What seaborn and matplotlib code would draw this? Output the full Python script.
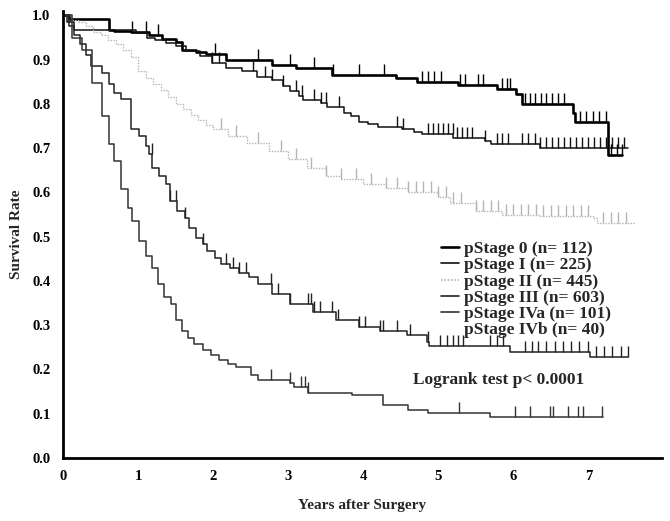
import numpy as np
import pandas as pd
import matplotlib
matplotlib.use("Agg")
import matplotlib.pyplot as plt
from matplotlib.lines import Line2D
import seaborn as sns

# ---- data ----
stage_labels = ["pStage 0 (n= 112)", "pStage I (n= 225)", "pStage II (n= 445)",
                "pStage III (n= 603)", "pStage IVa (n= 101)", "pStage IVb (n= 40)"]

s0_t = [0, 0.08, 0.61, 0.68, 0.91, 1.15, 1.32, 1.50, 1.59, 1.77, 1.90, 2.17, 2.79, 3.11, 3.59,
        4.44, 4.71, 5.26, 5.78, 6.04, 6.11, 6.80, 6.82, 7.26, 7.45]
s0_s = [1.0, 0.991, 0.968, 0.965, 0.962, 0.955, 0.946, 0.939, 0.923, 0.918, 0.912, 0.900, 0.889,
        0.881, 0.866, 0.859, 0.850, 0.842, 0.833, 0.822, 0.800, 0.779, 0.759, 0.685, 0.685]
s0_cens = [0.92, 1.11, 1.27, 2.02, 2.60, 3.03, 3.35, 3.60, 3.94, 4.27, 4.78, 4.86, 4.94, 5.03,
           5.29, 5.35, 5.53, 5.60, 5.85, 5.91, 5.95, 6.15, 6.22, 6.29, 6.37, 6.44, 6.52, 6.60,
           6.67, 6.89, 6.97, 7.06, 7.14, 7.24, 7.30, 7.38, 7.45]

s1_t = [0, 0.05, 0.15, 0.97, 1.12, 1.22, 1.37, 1.50, 1.64, 1.82, 1.99, 2.17, 2.38, 2.59, 2.78,
        2.93, 3.02, 3.15, 3.20, 3.44, 3.52, 3.75, 3.84, 3.95, 4.06, 4.19, 4.51, 4.68, 4.78, 5.20,
        5.62, 5.70, 6.36, 7.53]
s1_s = [1.0, 0.985, 0.966, 0.960, 0.949, 0.944, 0.937, 0.930, 0.919, 0.908, 0.892, 0.881, 0.874,
        0.862, 0.855, 0.840, 0.829, 0.818, 0.808, 0.802, 0.793, 0.780, 0.773, 0.760, 0.754, 0.748,
        0.744, 0.737, 0.732, 0.724, 0.716, 0.710, 0.700, 0.700]
s1_cens = [1.99, 2.08, 2.53, 2.69, 2.78, 2.93, 3.11, 3.18, 3.35, 3.44, 3.51, 3.68, 4.45, 4.53,
           4.86, 4.93, 5.00, 5.06, 5.13, 5.19, 5.25, 5.32, 5.38, 5.45, 5.62, 5.78, 5.85, 5.93,
           6.11, 6.20, 6.29, 6.36, 6.44, 6.52, 6.60, 6.68, 6.76, 6.84, 6.92, 7.00, 7.08, 7.16,
           7.24, 7.32, 7.40, 7.48]

s2_t = [0, 0.1, 0.2, 0.3, 0.4, 0.5, 0.6, 0.7, 0.8, 0.9, 1.0, 1.1, 1.2, 1.3, 1.4, 1.5, 1.6, 1.7,
        1.8, 1.9, 2.0, 2.2, 2.45, 2.75, 3.0, 3.25, 3.5, 3.7, 4.0, 4.3, 4.6, 5.0, 5.15, 5.5, 5.85,
        6.35, 7.06, 7.12, 7.62]
s2_s = [1.0, 0.990, 0.985, 0.975, 0.962, 0.955, 0.945, 0.935, 0.922, 0.905, 0.875, 0.858, 0.845,
        0.832, 0.815, 0.800, 0.788, 0.775, 0.763, 0.752, 0.743, 0.727, 0.712, 0.694, 0.676, 0.655,
        0.637, 0.631, 0.619, 0.610, 0.600, 0.590, 0.577, 0.559, 0.550, 0.547, 0.543, 0.532, 0.532]
s2_cens = [2.1, 2.3, 2.6, 2.9, 3.1, 3.3, 3.5, 3.7, 3.9, 4.1, 4.3, 4.45, 4.6, 4.7, 4.8, 4.9, 5.0,
           5.1, 5.2, 5.3, 5.5, 5.6, 5.7, 5.8, 5.9, 6.0, 6.1, 6.2, 6.3, 6.4, 6.5, 6.6, 6.7, 6.8,
           6.9, 7.0, 7.2, 7.3, 7.4, 7.5]

s3_t = [0, 0.08, 0.15, 0.22, 0.30, 0.37, 0.52, 0.61, 0.68, 0.77, 0.91, 1.01, 1.11, 1.14, 1.19,
        1.28, 1.37, 1.42, 1.52, 1.62, 1.68, 1.77, 1.86, 1.92, 2.02, 2.11, 2.22, 2.35, 2.48, 2.60,
        2.79, 3.02, 3.33, 3.64, 3.95, 4.22, 4.58, 4.85, 4.87, 5.95, 7.02, 7.53]
s3_s = [1.0, 0.975, 0.955, 0.935, 0.910, 0.885, 0.869, 0.845, 0.824, 0.811, 0.743, 0.727, 0.705,
        0.687, 0.655, 0.637, 0.619, 0.581, 0.559, 0.543, 0.520, 0.498, 0.484, 0.468, 0.453, 0.439,
        0.430, 0.418, 0.408, 0.394, 0.371, 0.349, 0.329, 0.311, 0.295, 0.288, 0.277, 0.262, 0.252,
        0.240, 0.228, 0.228]
s3_cens = [1.18, 1.42, 1.50, 1.62, 1.86, 2.17, 2.26, 2.35, 2.44, 2.77, 2.86, 3.02, 3.26, 3.31,
           3.35, 3.42, 3.59, 3.66, 3.95, 4.02, 4.22, 4.26, 4.45, 4.62, 4.86, 5.02, 5.11, 5.19,
           5.26, 5.33, 5.69, 5.78, 5.86, 6.15, 6.25, 6.33, 6.44, 6.55, 6.66, 6.77, 6.88, 6.99,
           7.10, 7.21, 7.32, 7.43, 7.53]

s4_t = [0, 0.12, 0.25, 0.39, 0.52, 0.61, 0.68, 0.77, 0.86, 0.92, 1.01, 1.11, 1.18, 1.26, 1.35,
        1.44, 1.51, 1.59, 1.66, 1.75, 1.86, 1.97, 2.08, 2.20, 2.30, 2.51, 2.60, 3.02, 3.08, 3.26,
        3.85, 4.26, 4.60, 4.86, 5.69, 7.20]
s4_s = [1.0, 0.950, 0.923, 0.847, 0.773, 0.709, 0.671, 0.608, 0.565, 0.536, 0.491, 0.457, 0.430,
        0.394, 0.363, 0.349, 0.311, 0.288, 0.272, 0.258, 0.245, 0.232, 0.222, 0.213, 0.206, 0.187,
        0.176, 0.169, 0.160, 0.146, 0.142, 0.119, 0.108, 0.101, 0.093, 0.093]
s4_cens = [2.77, 3.02, 3.17, 3.22, 3.26, 5.27, 6.02, 6.22, 6.49, 6.53, 6.73, 6.86, 6.93, 7.18]

x_ticks = [0, 1, 2, 3, 4, 5, 6, 7]
y_ticks = [0.0, 0.1, 0.2, 0.3, 0.4, 0.5, 0.6, 0.7, 0.8, 0.9, 1.0]

# ---- styling ----
series = [
    (s0_t, s0_s, s0_cens, "#000000", 1.9, "-"),
    (s1_t, s1_s, s1_cens, "#111111", 1.1, "-"),
    (s2_t, s2_s, s2_cens, "#b5b5b5", 1.0, (0, (1, 1))),
    (s3_t, s3_s, s3_cens, "#222222", 1.1, "-"),
    (s4_t, s4_s, s4_cens, "#333333", 1.1, "-"),
]

sns.set_style("white")
plt.rcParams["font.family"] = ["Liberation Serif", "DejaVu Serif"]
plt.rcParams["font.weight"] = "bold"

fig = plt.figure(figsize=(6.7, 5.21), dpi=100)
ax = fig.add_axes([63 / 670, 1 - 458 / 521, (662 - 63) / 670, (458 - 11) / 521])

handles = []
for i, (t, s, cens, col, lw, ls) in enumerate(series):
    df = pd.DataFrame({"t": t, "s": s})
    sns.lineplot(data=df, x="t", y="s", ax=ax, color=col, linewidth=lw, linestyle=ls,
                 drawstyle="steps-post", estimator=None, sort=False)
    t_arr = np.asarray(t)
    s_arr = np.asarray(s)
    idx = np.searchsorted(t_arr, np.asarray(cens), side="right") - 1
    ax.plot(cens, s_arr[idx], linestyle="none", marker=2, markersize=8,
            markeredgewidth=1.0, color=col)
    handles.append(Line2D([0], [0], color=col, linewidth=max(lw, 1.2),
                          linestyle="-" if i != 2 else (0, (1, 1))))
handles.append(Line2D([0], [0], color="white", linewidth=1.2))

ax.set_xlim(0, 7.98)
ax.set_ylim(0, 1.01)
ax.set_xticks(x_ticks)
ax.set_xticklabels([str(v) for v in x_ticks])
ax.set_yticks(y_ticks)
ax.set_yticklabels([f"{v:.1f}" for v in y_ticks])
ax.tick_params(axis="both", labelsize=10.5, length=2, width=1, pad=7, colors="black")
for lab in ax.get_xticklabels() + ax.get_yticklabels():
    lab.set_fontweight("bold")
sns.despine(ax=ax)
ax.spines["left"].set_linewidth(2.0)
ax.spines["bottom"].set_linewidth(2.0)
ax.spines["left"].set_color("black")
ax.spines["bottom"].set_color("black")

ax.set_xlabel("Years after Surgery", fontsize=11, fontweight="bold", labelpad=11)
ax.set_ylabel("Survival Rate", fontsize=11, fontweight="bold", labelpad=7)

leg = ax.legend(handles, stage_labels, loc="upper left",
                bbox_to_anchor=(429 / 670, 1 - 229 / 521), bbox_transform=fig.transFigure,
                frameon=False, fontsize=12.5, handlelength=1.0, handletextpad=0.3,
                labelspacing=0.0, borderpad=0.2)
for txt in leg.get_texts():
    txt.set_fontweight("bold")

ax.text(5.81, 0.176, "Logrank test p< 0.0001", fontsize=12.5, fontweight="bold",
        ha="center", va="center")

fig.savefig("out.png", dpi=100)
